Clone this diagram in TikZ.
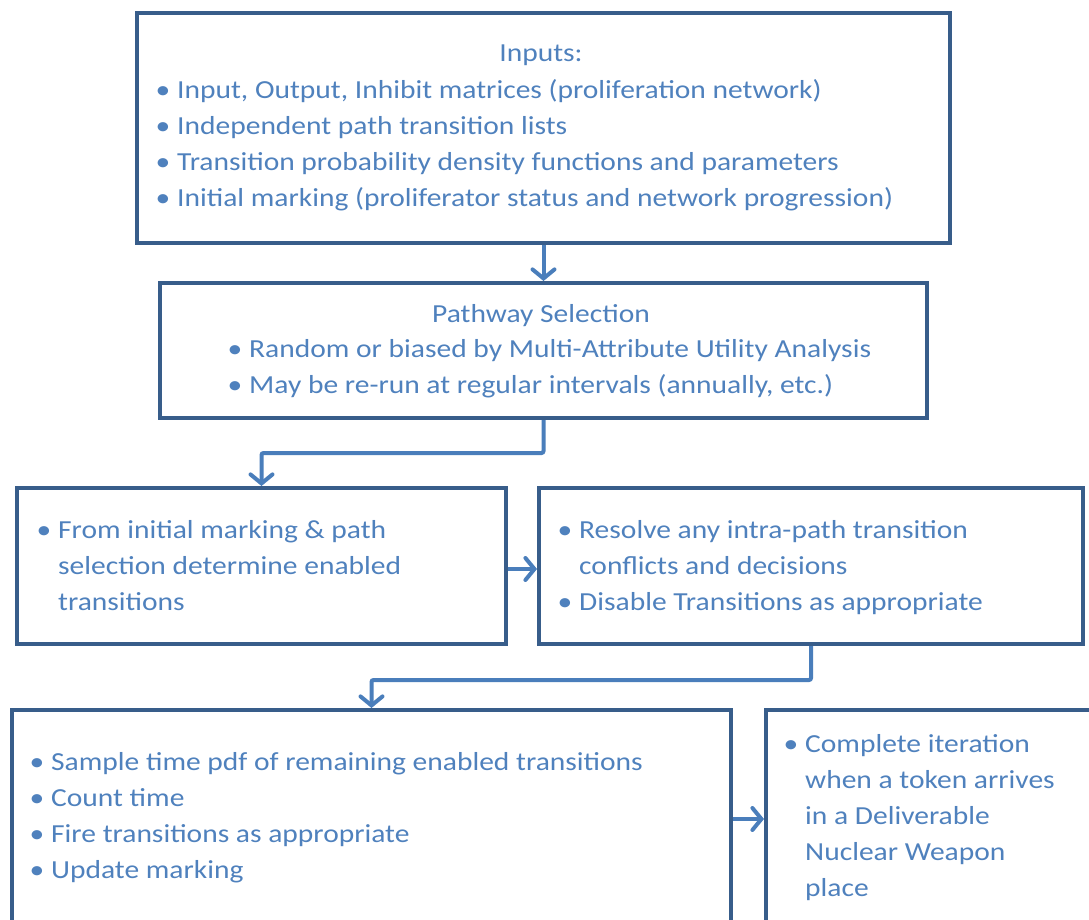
\documentclass[tikz,border=0pt]{standalone}
\usepackage{fontspec}
\setmainfont{Carlito}[FakeStretch=1.135]
\usetikzlibrary{arrows.meta}
\definecolor{boxline}{HTML}{385D8A}
\definecolor{arrline}{HTML}{4A7EBB}
\definecolor{txtcol}{HTML}{4F81BD}
\tikzset{
  stepbox/.style={draw=boxline, line width=4pt, rectangle, inner sep=0pt, anchor=north west},
  arr/.style={draw=arrline, line width=4pt, -{Straight Barb[length=9pt,width=22pt,line cap=round]}, rounded corners=2pt},
  txt/.style={text=txtcol, font=\fontsize{26}{36}\selectfont, inner sep=0pt, anchor=base west},
  ttl/.style={txt, anchor=base},
}
\newcommand{\bul}{\llap{•\hspace{7pt}}}
\begin{document}
\begin{tikzpicture}[x=1pt,y=-1pt]
\useasboundingbox (0,0) rectangle (1089,920);
\clip (0,0) rectangle (1089,920);
% boxes
\node[stepbox, minimum width=813, minimum height=230] (inp) at (135,11) {};
\node[stepbox, minimum width=767, minimum height=135] (path) at (158,281) {};
\node[stepbox, minimum width=489, minimum height=156] (det) at (15,486) {};
\node[stepbox, minimum width=544, minimum height=156] (res) at (537,486) {};
\node[stepbox, minimum width=719, minimum height=218] (samp) at (10,708) {};
\node[stepbox, minimum width=400, minimum height=218] (comp) at (764,708) {};
% texts box 1
\node[ttl] (t1) at (541,62) {Inputs:};
\node[txt] (t1a) at (177,99) {\bul Input, Output, Inhibit matrices (proliferation network)};
\node[txt] (t1b) at (177,135) {\bul Independent path transition lists};
\node[txt] (t1c) at (177,171) {\bul Transition probability density functions and parameters};
\node[txt] (t1d) at (177,207) {\bul Initial marking (proliferator status and network progression)};
% box 2
\node[ttl] (t2) at (541,322) {Pathway Selection};
\node[txt] (t2a) at (249,357) {\bul Random or biased by Multi-Attribute Utility Analysis};
\node[txt] (t2b) at (249,393) {\bul May be re-run at regular intervals (annually, etc.)};
% box 3
\node[txt] (t3a) at (58,538) {\bul From initial marking \& path};
\node[txt] (t3b) at (58,574) {selection determine enabled};
\node[txt] (t3c) at (58,610) {transitions};
% box 4
\node[txt] (t4a) at (579,538) {\bul Resolve any intra-path transition};
\node[txt] (t4b) at (579,574) {conflicts and decisions};
\node[txt] (t4c) at (579,610) {\bul Disable Transitions as appropriate};
% box 5
\node[txt] (t5a) at (51,770) {\bul Sample time pdf of remaining enabled transitions};
\node[txt] (t5b) at (51,806) {\bul Count time};
\node[txt] (t5c) at (51,842) {\bul Fire transitions as appropriate};
\node[txt] (t5d) at (51,878) {\bul Update marking};
% box 6
\node[txt] (t6a) at (805,752) {\bul Complete iteration};
\node[txt] (t6b) at (805,788) {when a token arrives};
\node[txt] (t6c) at (805,824) {in a Deliverable};
\node[txt] (t6d) at (805,860) {Nuclear Weapon};
\node[txt] (t6e) at (805,896) {place};
% connectors
\draw[arr] (inp.south) -- (path.north);
\draw[arr] (path.south) -- ++(0,33) -| (det.north);
\draw[arr] ([yshift=-3pt]det.east) -- ([yshift=-3pt]res.west);
\draw[arr] (res.south) -- ++(0,34) -| (samp.north);
\draw[arr] (samp.east) -- (comp.west);
\end{tikzpicture}
\end{document}
